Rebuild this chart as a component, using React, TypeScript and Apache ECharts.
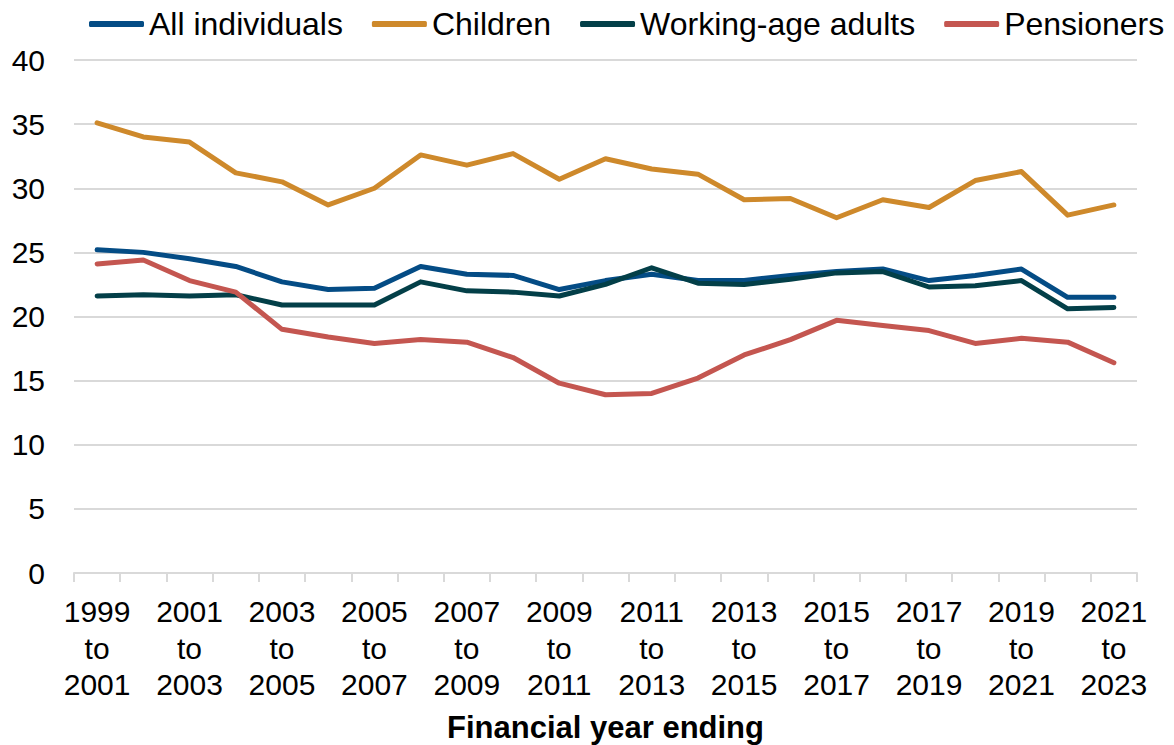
import React, { useEffect, useRef } from "react";
import * as echarts from "echarts";

const categories = [
  "1999 to 2001", "2000 to 2002", "2001 to 2003", "2002 to 2004", "2003 to 2005",
  "2004 to 2006", "2005 to 2007", "2006 to 2008", "2007 to 2009", "2008 to 2010",
  "2009 to 2011", "2010 to 2012", "2011 to 2013", "2012 to 2014", "2013 to 2015",
  "2014 to 2016", "2015 to 2017", "2016 to 2018", "2017 to 2019", "2018 to 2020",
  "2019 to 2021", "2020 to 2022", "2021 to 2023",
];

const allIndividuals = [25.2, 25.0, 24.5, 23.9, 22.7, 22.1, 22.2, 23.9, 23.3, 23.2, 22.1, 22.8, 23.3, 22.8, 22.8, 23.2, 23.5, 23.7, 22.8, 23.2, 23.7, 21.5, 21.5];
const children = [35.1, 34.0, 33.6, 31.2, 30.5, 28.7, 30.0, 32.6, 31.8, 32.7, 30.7, 32.3, 31.5, 31.1, 29.1, 29.2, 27.7, 29.1, 28.5, 30.6, 31.3, 27.9, 28.7];
const workingAge = [21.6, 21.7, 21.6, 21.7, 20.9, 20.9, 20.9, 22.7, 22.0, 21.9, 21.6, 22.5, 23.8, 22.6, 22.5, 22.9, 23.4, 23.5, 22.3, 22.4, 22.8, 20.6, 20.7];
const pensioners = [24.1, 24.4, 22.8, 21.9, 19.0, 18.4, 17.9, 18.2, 18.0, 16.8, 14.8, 13.9, 14.0, 15.2, 17.0, 18.2, 19.7, 19.3, 18.9, 17.9, 18.3, 18.0, 16.4];

const yTicks = { min: 0, max: 40, interval: 5 };

const seriesDefs = [
  { name: "All individuals", data: allIndividuals, color: "#044C85" },
  { name: "Children", data: children, color: "#CE892B" },
  { name: "Working-age adults", data: workingAge, color: "#033F48" },
  { name: "Pensioners", data: pensioners, color: "#C45650" },
];

const FONT = "'Liberation Sans', Arial, sans-serif";

export default function App() {
  const ref = useRef<HTMLDivElement>(null);
  useEffect(() => {
    if (!ref.current) return;
    const chart = echarts.init(ref.current, undefined, { renderer: "svg" });
    chart.setOption({
      animation: false,
      textStyle: { fontFamily: FONT },
      legend: {
        left: 84,
        top: 3,
        width: 1100,
        itemWidth: 55,
        itemHeight: 6,
        itemGap: 29,
        icon: "roundRect",
        textStyle: { fontSize: 32, color: "#000", fontFamily: FONT },
        data: seriesDefs.map((s) => s.name),
      },
      grid: { left: 74, right: 37, top: 60, bottom: 172, containLabel: false, outerBoundsMode: "none" },
      xAxis: {
        type: "category",
        data: categories,
        boundaryGap: true,
        name: "Financial year ending",
        nameLocation: "middle",
        nameGap: 139,
        nameTextStyle: { fontSize: 31, fontWeight: "bold", color: "#000", fontFamily: FONT },
        axisLine: { show: true, lineStyle: { color: "#D9D9D9", width: 2 } },
        axisTick: { show: true, interval: 0, length: 9, lineStyle: { color: "#D9D9D9", width: 2 } },
        axisLabel: {
          interval: 1,
          fontSize: 30,
          lineHeight: 36.7,
          color: "#000",
          margin: 20,
          fontFamily: FONT,
          formatter: (v: string) => v.split(" ").join("\n"),
        },
      },
      yAxis: {
        type: "value",
        min: yTicks.min,
        max: yTicks.max,
        interval: yTicks.interval,
        axisLine: { show: false },
        axisTick: { show: false },
        splitLine: { lineStyle: { color: "#D9D9D9", width: 2 } },
        axisLabel: { fontSize: 30, color: "#000", margin: 29, fontFamily: FONT },
      },
      series: seriesDefs.map((s) => ({
        name: s.name,
        type: "line",
        data: s.data,
        symbol: "none",
        color: s.color,
        lineStyle: { color: s.color, width: 5, cap: "round", join: "round" },
        itemStyle: { color: s.color },
      })),
    });
    return () => chart.dispose();
  }, []);
  return <div ref={ref} style={{ width: 1174, height: 745, position: "absolute", left: 0, top: 0 }} />;
}
